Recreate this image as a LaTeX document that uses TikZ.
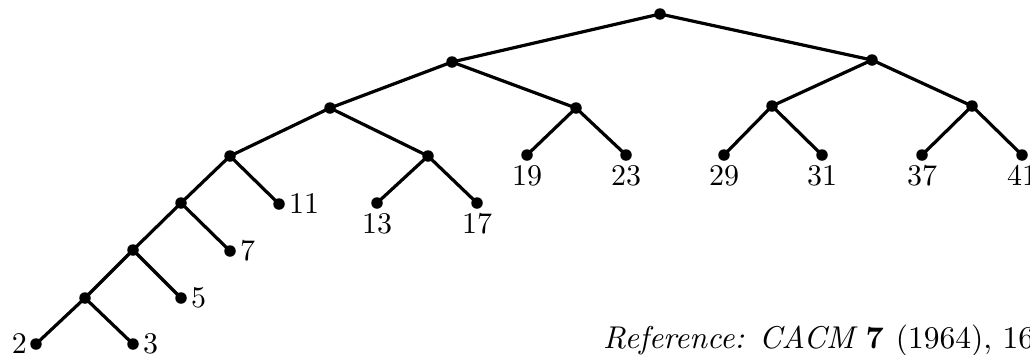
\documentclass[tikz,border=0pt]{standalone}
\font\digrm="[lmroman10-regular]:mapping=tex-text" at 30pt
\font\refrm="[lmroman10-regular]:mapping=tex-text" at 31.5pt
\font\refit="[lmroman10-italic]:mapping=tex-text" at 31.5pt
\font\refbf="[lmroman10-bold]:mapping=tex-text" at 31.5pt
\begin{document}
\begin{tikzpicture}[x=1pt,y=-1pt,
  dot/.style={circle,fill=black,inner sep=0pt,minimum size=11.5pt},
  edge/.style={line width=3.2pt},
  lbl/.style={font=\digrm,inner sep=1pt}]
\useasboundingbox (0,0) rectangle (1030,354);
\clip (0,0) rectangle (1030,354);
% internal nodes
\node[dot] (r) at (660,14) {};
\node[dot] (a) at (452,62) {};
\node[dot] (b) at (872,60) {};
\node[dot] (c) at (330,108) {};
\node[dot] (d) at (576,108) {};
\node[dot] (e) at (772,106) {};
\node[dot] (f) at (972,106) {};
\node[dot] (g) at (230,156) {};
\node[dot] (h) at (428,156) {};
\node[dot] (i) at (181,203) {};
\node[dot] (j) at (133,250) {};
\node[dot] (k) at (85,298) {};
% leaves
\node[dot] (n19) at (527,155) {};
\node[dot] (n23) at (626,155) {};
\node[dot] (n29) at (724,155) {};
\node[dot] (n31) at (822,155) {};
\node[dot] (n37) at (922,155) {};
\node[dot] (n41) at (1022,155) {};
\node[dot] (n11) at (279,204) {};
\node[dot] (n13) at (377,203) {};
\node[dot] (n17) at (477,203) {};
\node[dot] (n7) at (230,251) {};
\node[dot] (n5) at (181,298) {};
\node[dot] (n2) at (36,344) {};
\node[dot] (n3) at (133,344) {};
% edges
\draw[edge] (r.center) -- (a.center);
\draw[edge] (r.center) -- (b.center);
\draw[edge] (a.center) -- (c.center);
\draw[edge] (a.center) -- (d.center);
\draw[edge] (b.center) -- (e.center);
\draw[edge] (b.center) -- (f.center);
\draw[edge] (c.center) -- (g.center);
\draw[edge] (c.center) -- (h.center);
\draw[edge] (d.center) -- (n19.center);
\draw[edge] (d.center) -- (n23.center);
\draw[edge] (e.center) -- (n29.center);
\draw[edge] (e.center) -- (n31.center);
\draw[edge] (f.center) -- (n37.center);
\draw[edge] (f.center) -- (n41.center);
\draw[edge] (g.center) -- (i.center);
\draw[edge] (g.center) -- (n11.center);
\draw[edge] (h.center) -- (n13.center);
\draw[edge] (h.center) -- (n17.center);
\draw[edge] (i.center) -- (j.center);
\draw[edge] (i.center) -- (n7.center);
\draw[edge] (j.center) -- (k.center);
\draw[edge] (j.center) -- (n5.center);
\draw[edge] (k.center) -- (n2.center);
\draw[edge] (k.center) -- (n3.center);
% labels
\foreach \n in {19,23,29,31,37,41,13,17}
  \node[lbl,anchor=north] at ([yshift=-3pt]n\n.south) {\n};
\foreach \n in {11,7,5,3}
  \node[lbl,anchor=west] at ([xshift=3pt]n\n.east) {\n};
\node[lbl,anchor=east] at ([xshift=-2pt]n2.west) {2};
\node[inner sep=0pt,anchor=base west] (ref) at (603,348) {\refit Reference: CACM \refbf 7 \refrm (1964), 160};
\end{tikzpicture}
\end{document}
